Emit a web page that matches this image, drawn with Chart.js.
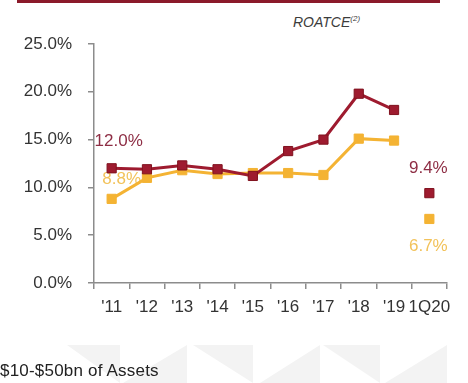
<!DOCTYPE html>
<html>
<head>
<meta charset="utf-8">
<script src="https://cdn.jsdelivr.net/npm/chart.js@4.4.1/dist/chart.umd.min.js"></script>
<style>
  html, body { margin: 0; padding: 0; background: #fff; }
  body { width: 468px; height: 383px; position: relative; overflow: hidden; font-family: Arial, "Liberation Sans", sans-serif; }
  #topRule { position: absolute; left: 17px; top: 0; width: 423px; height: 3px; background: #8b1a2a; }
  #title { position: absolute; left: 293px; top: 14px; font-size: 14px; font-style: italic; color: #3c3c3c; }
  #title sup { font-size: 8px; }
  .mark { position: absolute; top: 345px; height: 38px; background: #f3f3f3; }
  .down { clip-path: polygon(0 0, 100% 0, 100% 100%); }
  .up { clip-path: polygon(100% 0, 100% 100%, 0 100%); }
  #footer { position: absolute; left: 0; top: 361px; font-size: 17px; letter-spacing: 0.2px; color: #222; }
  #chartBox { position: absolute; left: 0; top: 0; width: 468px; height: 383px; }
</style>
</head>
<body>
<div class="mark down" style="left:67px;width:53px;"></div>
<div class="mark up" style="left:123px;width:64px;"></div>
<div class="mark down" style="left:193px;width:60px;"></div>
<div class="mark up" style="left:260px;width:60px;"></div>
<div class="mark down" style="left:323px;width:57px;"></div>
<div class="mark up" style="left:385px;width:62px;"></div>
<div id="topRule"></div>
<div id="title">ROATCE<sup>(2)</sup></div>
<div id="chartBox"><canvas id="myChart"></canvas></div>
<div id="footer">$10-$50bn of Assets</div>
<script>
// categories and series
let years = ["'11", "'12", "'13", "'14", "'15", "'16", "'17", "'18", "'19", "1Q20"];
let peerRoatce = [12.0, 11.9, 12.3, 11.9, 11.2, 13.8, 15.0, 19.8, 18.1, 9.4];
let bankRoatce = [8.8, 11.0, 11.8, 11.4, 11.5, 11.5, 11.3, 15.1, 14.9, 6.7];
let yTicks = [0, 5, 10, 15, 20, 25];

let red = '#9e1b2f';
let gold = '#f4b333';
let lastIdx = years.length - 1;

// value labels: which dataset, which point, offset from the marker
let valueLabels = [
    { ds: 0, i: 0, dx: 7, dy: -27, color: '#8e2e45' },
    { ds: 1, i: 0, dx: 10, dy: -20, color: '#f2c25a' },
    { ds: 0, i: lastIdx, dx: -1, dy: -25, color: '#8e2e45' },
    { ds: 1, i: lastIdx, dx: -1, dy: 27, color: '#f2c25a' }
];

let labelPlugin = {
    id: 'valueLabels',
    beforeDatasetsDraw(chart) {
        let ctx = chart.ctx;
        ctx.save();
        ctx.font = '17px Arial, "Liberation Sans", sans-serif';
        ctx.textAlign = 'center';
        ctx.textBaseline = 'middle';
        valueLabels.forEach(l => {
            let pt = chart.getDatasetMeta(l.ds).data[l.i];
            let v = chart.data.datasets[l.ds].data[l.i];
            ctx.fillStyle = l.color;
            ctx.fillText(v.toFixed(1) + '%', pt.x + l.dx, pt.y + l.dy);
        });
        ctx.restore();
    }
};

// the 1Q20 point stands alone, no segment into it
let gapSegment = color => ({
    borderColor: c => c.p1DataIndex === lastIdx ? 'rgba(0,0,0,0)' : color
});

let ctx = document.getElementById('myChart').getContext('2d');
let chart = new Chart(ctx, {
    type: 'line',
    data: {
        labels: years,
        datasets: [{
            label: 'Peers',
            data: peerRoatce,
            borderColor: red,
            backgroundColor: red,
            pointBorderColor: '#80121f',
            borderWidth: 3,
            pointStyle: 'rect',
            pointRadius: 6.5,
            pointBorderWidth: 1,
            segment: gapSegment(red)
        }, {
            label: 'Bank',
            data: bankRoatce,
            borderColor: gold,
            backgroundColor: gold,
            borderWidth: 3,
            pointStyle: 'rect',
            pointRadius: 6.5,
            pointBorderWidth: 1,
            segment: gapSegment(gold)
        }]
    },
    options: {
        responsive: true,
        maintainAspectRatio: false,
        animation: false,
        layout: { padding: { top: 44, right: 21, bottom: 60, left: 0 } },
        plugins: {
            legend: { display: false },
            tooltip: { enabled: false }
        },
        scales: {
            x: {
                offset: true,
                afterFit: s => { s.height = 40; },
                grid: { offset: true, drawOnChartArea: false, drawTicks: true, tickLength: 6, color: '#8c8c8c', lineWidth: 1.5 },
                border: { color: '#8c8c8c', width: 1.5 },
                ticks: { color: '#333', padding: 8, maxRotation: 0, autoSkip: false, font: { family: 'Arial, "Liberation Sans", sans-serif', size: 17 } }
            },
            y: {
                min: 0,
                max: 25,
                afterBuildTicks: s => { s.ticks = yTicks.map(v => ({ value: v })); },
                afterFit: s => { s.width = 94; },
                grid: { drawOnChartArea: false, drawTicks: true, tickLength: 6, color: '#8c8c8c', lineWidth: 1.5 },
                border: { color: '#8c8c8c', width: 1.5 },
                ticks: {
                    color: '#333',
                    padding: 16,
                    font: { family: 'Arial, "Liberation Sans", sans-serif', size: 17 },
                    callback: v => v.toFixed(1) + '%'
                }
            }
        }
    },
    plugins: [labelPlugin]
});
</script>
</body>
</html>
